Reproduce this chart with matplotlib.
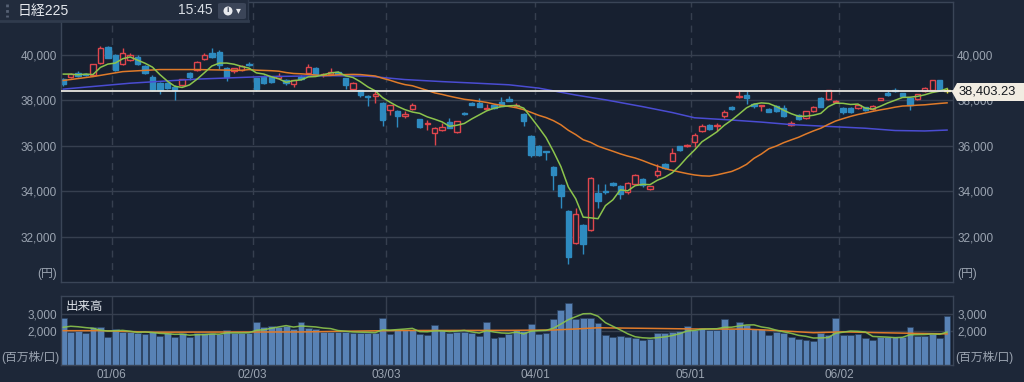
import numpy as np
import pandas as pd
import matplotlib
matplotlib.use("Agg")
import matplotlib.pyplot as plt
from matplotlib.patches import Rectangle, FancyBboxPatch, Ellipse, Polygon
from matplotlib.lines import Line2D
from matplotlib.ticker import FuncFormatter

plt.rcParams['font.family'] = ['Liberation Sans', 'Noto Sans CJK JP', 'DejaVu Sans']

# trading days (Dec 2024 - Jun 2025)
dates = ['12/20', '12/23', '12/24', '12/25', '12/26', '12/27', '12/30',
         '01/06', '01/07', '01/08', '01/09', '01/10', '01/14', '01/15', '01/16', '01/17', '01/20', '01/21',
         '01/22', '01/23', '01/24', '01/27', '01/28', '01/29', '01/30', '01/31',
         '02/03', '02/04', '02/05', '02/06', '02/07', '02/10', '02/12', '02/13', '02/14', '02/17', '02/18',
         '02/19', '02/20', '02/21', '02/25', '02/26', '02/27', '02/28',
         '03/03', '03/04', '03/05', '03/06', '03/07', '03/10', '03/11', '03/12', '03/13', '03/14', '03/17',
         '03/18', '03/19', '03/21', '03/24', '03/25', '03/26', '03/27', '03/28', '03/31',
         '04/01', '04/02', '04/03', '04/04', '04/07', '04/08', '04/09', '04/10', '04/11', '04/14', '04/15',
         '04/16', '04/17', '04/18', '04/21', '04/22', '04/23', '04/24', '04/25', '04/28', '04/30',
         '05/01', '05/02', '05/07', '05/08', '05/09', '05/12', '05/13', '05/14', '05/15', '05/16', '05/19',
         '05/20', '05/21', '05/22', '05/23', '05/26', '05/27', '05/28', '05/29', '05/30',
         '06/02', '06/03', '06/04', '06/05', '06/06', '06/09', '06/10', '06/11', '06/12', '06/13', '06/16',
         '06/17', '06/18', '06/19', '06/20']

opens = [38940, 39030, 39230, 39160, 39130, 39650, 40370,
         40010, 39600, 39800, 39930, 39520, 39050, 38760, 38790, 38600, 38690, 39200, 39350, 39820, 40080,
         40150, 39420, 39280, 39350, 39600,
         38990, 39050, 39050, 38990, 38910, 38740, 39050, 39230, 39420, 39130, 39180, 39250, 38990, 38500,
         38440, 38180, 38200, 37890,
         37560, 37520, 37330, 37620, 37180, 36980, 36580, 36700, 37060, 36600, 37460, 37910, 37870, 37640,
         37820, 37940, 38060, 37760, 37400, 36460,
         35980, 35760, 35070, 34290, 33150, 31730, 32530, 32290, 33930, 34020, 34370, 34260, 33960, 34340,
         34540, 34110, 34740, 35220, 35360, 35980, 35980,
         36170, 36640, 36930, 36860, 37300, 37710, 38150, 38220, 37840, 37760, 37620, 37740, 37670, 36940,
         37350, 37230, 37520, 38130, 38060, 37930,
         37660, 37670, 37650, 37700, 37620, 38030, 38320, 38470, 38320, 38130, 38060, 38400, 38440, 38900,
         38450]
highs = [39000, 39210, 39280, 39200, 39620, 40400, 40400,
         40050, 40300, 40100, 40000, 39580, 39100, 38800, 38830, 38690, 38960, 39260, 39720, 40080, 40300,
         40220, 39460, 39440, 39560, 39700,
         39000, 39100, 39080, 39220, 38950, 38900, 39100, 39600, 39480, 39200, 39450, 39300, 39000, 38800,
         38480, 38260, 38440, 37950,
         37800, 37560, 37520, 37900, 37200, 37150, 36820, 37000, 37250, 37120, 37500, 37950, 38130, 37830,
         37860, 38150, 38200, 37900, 37430, 36500,
         36050, 35800, 35100, 34320, 33170, 33270, 32560, 34630, 34330, 34330, 34420, 34300, 34400, 34760,
         34580, 34240, 35200, 35260, 35900, 36020, 36080,
         36550, 36950, 36960, 37010, 37560, 37740, 38470, 38400, 37880, 37800, 37680, 37790, 37800, 37080,
         37400, 37540, 37760, 38150, 38480, 38000,
         37700, 37700, 37830, 37720, 37800, 38130, 38420, 38550, 38340, 38150, 38300, 38600, 38920, 38920,
         38560]
lows = [38650, 38990, 39040, 39080, 39110, 39620, 39860,
        39300, 39580, 39720, 39550, 39150, 38420, 38300, 38520, 38030, 38650, 38880, 39300, 39780, 39880,
        39400, 38850, 39200, 39300, 39500,
        38400, 38720, 38750, 38950, 38700, 38600, 38900, 39200, 39100, 39050, 39130, 39100, 38500, 38450,
        38150, 37740, 37900, 36860,
        37350, 36850, 37250, 37580, 36800, 36700, 36040, 36650, 36780, 36560, 37380, 37780, 37700, 37600,
        37620, 37740, 37960, 37720, 36890, 35500,
        35550, 35400, 34080, 33280, 30800, 31700, 31250, 32280, 33270, 33900, 34230, 33680, 33900, 34300,
        34200, 34080, 34650, 34990, 35320, 35800, 35950,
        35940, 36600, 36700, 36640, 37250, 37600, 38100, 37850, 37650, 37520, 37480, 37480, 37260, 36900,
        37150, 37200, 37480, 37700, 38000, 37900,
        37420, 37440, 37620, 37520, 37600, 38000, 38200, 38380, 38150, 37590, 38030, 38380, 38420, 38450,
        38350]
closes = [38720, 39160, 39090, 39130, 39600, 40300, 39880,
          39320, 40080, 39990, 39600, 39200, 38470, 38440, 38570, 38450, 38940, 39030, 39680, 40000, 39930,
          39570, 39050, 39420, 39520, 39560,
          38520, 38790, 38830, 39070, 38790, 38880, 38960, 39490, 39150, 39180, 39270, 39160, 38670, 38780,
          38240, 38140, 38300, 37150,
          37790, 37330, 37420, 37780, 36850, 37030, 36800, 36840, 36800, 37090, 37420, 37800, 37720, 37690,
          37670, 37770, 37980, 37800, 37100, 35600,
          35620, 35730, 34740, 33780, 31120, 33020, 31700, 34590, 33590, 33990, 34290, 33900, 34370, 34730,
          34280, 34220, 34880, 35040, 35690, 35840, 36050,
          36490, 36860, 36760, 36930, 37510, 37640, 38180, 38130, 37740, 37780, 37510, 37520, 37300, 37000,
          37200, 37520, 37730, 37720, 38460, 37980,
          37480, 37490, 37800, 37560, 37770, 38100, 38220, 38400, 38180, 37820, 38280, 38570, 38900, 38480,
          38403.23]
# volume, million shares
volumes = [2780, 1920, 2020, 1860, 2220, 2220, 1670,
           2120, 1960, 1960, 1860, 1820, 1960, 1710, 1860, 1670, 1860, 1670, 1860, 1860, 1860, 1820, 2060,
           1860, 1860, 1900,
           2530, 2220, 2290, 2260, 2290, 2100, 2530, 2160, 2120, 1960, 1940, 1960, 1960, 1900, 1900, 1900,
           1860, 2780,
           1820, 2060, 2060, 2060, 1820, 1770, 2330, 2060, 1860, 1960, 1960, 1900, 1730, 2550, 1570, 1670,
           1820, 2060, 2020, 2390,
           1820, 1900, 2700, 3240, 3670, 2690, 2770, 2770, 2450, 1770, 1630, 1710, 1630, 1570, 1470, 1510,
           1860, 1860, 1960, 2020, 2290,
           2060, 2200, 2060, 2060, 2710, 2100, 2550, 2350, 2100, 2100, 1770, 1920, 1860, 1670, 1510, 1470,
           1430, 1900, 1770, 2780,
           1770, 1770, 1820, 1570, 1470, 1670, 1670, 1670, 1670, 2220, 1710, 1710, 1820, 1570, 2880]

ma5_head = [39160, 39160, 39130, 39160]
ma25_head_idx = [0, 4, 8, 13, 18, 23]
ma25_head = [38880, 39050, 39270, 39360, 39360, 39330]
ma75_idx = [0, 9, 18, 27, 36, 41, 46, 51, 55, 60, 64, 69, 73, 78, 82, 85, 90, 94, 98, 103, 108, 112, 116, 119]
ma75_vals = [38500, 38760, 38940, 39050, 39090, 39070, 38920, 38830, 38770, 38690, 38545, 38240, 38030,
             37730, 37470, 37240, 37140, 37050, 36940, 36860, 36780, 36680, 36660, 36700]
vol_ma5_head = [2220, 2280, 2250, 2200]
vol_ma25_idx = [0, 5, 12, 23, 32, 37, 45, 60, 66, 69, 72, 78, 85, 92, 96, 101, 105, 110, 115, 119]
vol_ma25 = [2020, 2020, 1930, 1940, 1945, 1980, 2030, 2040, 2060, 2120, 2190, 2160, 2120, 2110, 2030,
            1900, 1950, 1900, 1860, 1830]

BG = '#1d2738'
PANEL = '#172030'
GRID = '#363f4f'
SPINE = '#3a4557'
TXT = '#9ba4b1'
UP = '#e0464d'
DOWN = '#2e8bc0'
LAST = '#e3de3c'
GREEN = '#8cc44c'
ORANGE = '#e07b2a'
PURPLE = '#4a4cd2'

W, H = 1024, 382
L, R = 61, 953
n = len(closes)
x = np.arange(n)

fig = plt.figure(figsize=(W / 100, H / 100), dpi=100, facecolor=BG)
ax = fig.add_axes([L / W, 1 - 282 / H, (R - L) / W, 280 / H], facecolor=PANEL)
axv = fig.add_axes([L / W, 1 - 365 / H, (R - L) / W, 69 / H], facecolor=PANEL)

# month boundaries
bounds, blabels = [], []
for i in range(1, n):
    if dates[i][:2] != dates[i - 1][:2]:
        bounds.append(i - 0.5)
        blabels.append(dates[i])

# --- candles
o = np.array(opens, float)
c = np.array(closes, float)
h = np.array(highs, float)
l = np.array(lows, float)
up = c > o
lo_b = np.minimum(o, c)
hi_b = np.maximum(o, c)
hgt = np.maximum(hi_b - lo_b, 14)
cols = [UP if u else DOWN for u in up]
cols[-1] = LAST
faces = [PANEL if u else col for u, col in zip(up, cols)]
faces[-1] = LAST
ax.vlines(x, hi_b, h, colors=cols, lw=1, zorder=2)
ax.vlines(x, l, lo_b, colors=cols, lw=1, zorder=2)
ax.bar(x, hgt, bottom=lo_b, width=0.72, color=faces, edgecolor=cols, linewidth=1, zorder=2)

# --- moving averages
s = pd.Series(closes)
ma5 = s.rolling(5).mean().to_numpy()
ma5[:4] = ma5_head
ma25 = s.rolling(25).mean().to_numpy()
ax.plot(ma75_idx, ma75_vals, color=PURPLE, lw=1.1, zorder=3)
ax.plot(np.r_[ma25_head_idx, x[24:]], np.r_[ma25_head, ma25[24:]], color=ORANGE, lw=1.1, zorder=3)
ax.plot(x, ma5, color=GREEN, lw=1.1, zorder=3)
ax.axhline(closes[-1], color='#e8e6e0', lw=1.3, zorder=4)

for b in bounds:
    ax.axvline(b, color=GRID, lw=1, ls=(0, (5, 4)), zorder=0)
ax.set_yticks(range(32000, 40001, 2000))
ax.yaxis.set_major_formatter(FuncFormatter(lambda v, p: f'{v:,.0f}'))
ax.grid(axis='y', color=GRID, lw=1, zorder=0)
ax.set_axisbelow(True)
ax.set_xticks([])
ax.set_xlim(-0.31, 119.8)
ax.set_ylim(30020, 42330)
ax.tick_params(axis='y', length=0, labelleft=True, labelright=True, labelsize=8.5,
               labelcolor=TXT, pad=3)

# --- volume
v = pd.Series(volumes)
vma5 = v.rolling(5).mean().to_numpy()
vma5[:4] = vol_ma5_head
for b in bounds:
    axv.axvline(b, color=GRID, lw=1, zorder=0)
axv.bar(x, volumes, width=0.92, color='#5882b5', edgecolor='#2c4260', linewidth=0.5, zorder=2)
axv.plot(vol_ma25_idx, vol_ma25, color=ORANGE, lw=1.1, zorder=3)
axv.plot(x, vma5, color=GREEN, lw=1.1, alpha=0.9, zorder=3)
axv.set_yticks([2000, 3000])
axv.yaxis.set_major_formatter(FuncFormatter(lambda v, p: f'{v:,.0f}'))
axv.grid(axis='y', color=GRID, lw=1, zorder=0)
axv.set_axisbelow(True)
axv.set_xlim(-0.31, 119.8)
axv.set_ylim(0, 4060)
axv.set_xticks(bounds)
axv.set_xticklabels(blabels)
axv.tick_params(axis='x', length=0, labelsize=8.5, labelcolor=TXT, pad=3)
axv.tick_params(axis='y', length=0, labelleft=True, labelright=True, labelsize=8.5,
                labelcolor=TXT, pad=3)

for a in (ax, axv):
    for sp in a.spines.values():
        sp.set_color(SPINE)
        sp.set_linewidth(1)

# axis unit labels
fig.text(57 / W, 1 - 274 / H, '(円)', ha='right', va='center', fontsize=8.5, color=TXT)
fig.text(957 / W, 1 - 274 / H, '(円)', ha='left', va='center', fontsize=8.5, color=TXT)
fig.text(59 / W, 1 - 358 / H, '(百万株/口)', ha='right', va='center', fontsize=8.5, color=TXT)
fig.text(955 / W, 1 - 358 / H, '(百万株/口)', ha='left', va='center', fontsize=8.5, color=TXT)
fig.text(66 / W, 1 - 307 / H, '出来高', ha='left', va='center', fontsize=9, color='#dde2e8')

# last price tag (pointed box on the right)
tag_pts = [(952, 92), (957, 83), (1024, 83), (1024, 101), (957, 101)]
fig.add_artist(Polygon([(px / W, 1 - py / H) for px, py in tag_pts], closed=True,
                       transform=fig.transFigure, fc='#f1ece2', ec='none', zorder=5))
t = fig.text(959 / W, 1 - 92 / H, f'{closes[-1]:,.2f}', ha='left', va='center', fontsize=9.3,
             color='#15191f')
t.set_zorder(6)

# header box
fig.add_artist(Rectangle((0, 1 - 21 / H), 248 / W, 21 / H, transform=fig.transFigure,
                         fc='#222c3d', ec='none', zorder=5))
fig.add_artist(Line2D([0, 248 / W], [1 - 21 / H] * 2, transform=fig.transFigure,
                      color='#303b4d', lw=2, zorder=6))
fig.add_artist(Line2D([248 / W] * 2, [1 - 21 / H, 1], transform=fig.transFigure,
                      color='#303b4d', lw=1, zorder=6))
fig.add_artist(Line2D([7 / W] * 2, [1 - 4 / H, 1 - 17 / H], transform=fig.transFigure,
                      color='#566174', lw=2, ls=(0, (1, 1)), zorder=6))
t = fig.text(18 / W, 1 - 10.5 / H, '日経225', ha='left', va='center', fontsize=10, color='#e6e9ee')
t.set_zorder(7)
t = fig.text(195 / W, 1 - 10.5 / H, '15:45', ha='center', va='center', fontsize=10, color='#d8dde4')
t.set_zorder(7)
fig.add_artist(FancyBboxPatch((218 / W, 1 - 19 / H), 28 / W, 16 / H, transform=fig.transFigure,
                              boxstyle='round,pad=0,rounding_size=0.003', fc='#3b4558', ec='none', zorder=6))
fig.add_artist(Ellipse((228 / W, 1 - 11 / H), 9 / W, 9 / H, transform=fig.transFigure,
                       fc='#e8eaee', ec='none', zorder=7))
t = fig.text(228 / W, 1 - 11 / H, 'i', ha='center', va='center', fontsize=6, fontweight='bold',
             color='#3b4558')
t.set_zorder(8)
t = fig.text(238 / W, 1 - 10.5 / H, '▾', ha='center', va='center', fontsize=7, color='#e8eaee',
             family=['DejaVu Sans'])
t.set_zorder(8)

fig.savefig('out.png', dpi=100, facecolor=BG)
